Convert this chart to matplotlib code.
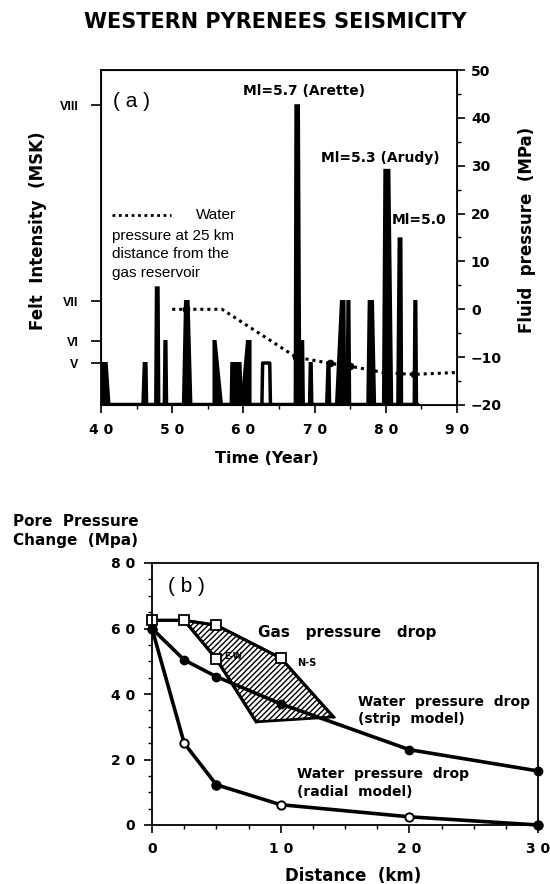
import numpy as np
import matplotlib
matplotlib.use("Agg")
import matplotlib.pyplot as plt
from matplotlib.ticker import MultipleLocator, FixedLocator, FixedFormatter

plt.rcParams['font.family'] = ['DejaVu Sans']
plt.rcParams['hatch.linewidth'] = 1.0
LIB = ['Liberation Sans', 'DejaVu Sans']

# ---- panel (a): felt intensity events (trapezoids: base-left, top-left, top-right, base-right)
ev_x0 = [39.9, 45.8, 47.6, 48.8, 51.5, 55.8, 58.2, 59.7, 62.6, 67.2, 68.0, 69.2, 71.6, 73.0, 74.5, 77.4, 79.6, 81.6, 83.9]
ev_x1 = [40.2, 46.0, 47.7, 48.9, 51.8, 55.8, 58.3, 60.5, 62.7, 67.3, 68.1, 69.3, 71.8, 73.7, 74.6, 77.6, 79.8, 81.8, 84.0]
ev_x2 = [40.8, 46.4, 48.1, 49.2, 52.3, 56.1, 59.6, 61.0, 63.7, 67.8, 68.4, 69.6, 72.1, 74.2, 74.9, 78.2, 80.5, 82.2, 84.3]
ev_x3 = [41.2, 46.5, 48.2, 49.3, 52.7, 57.0, 59.8, 61.0, 63.8, 68.0, 68.5, 69.7, 72.2, 74.3, 75.0, 78.5, 80.9, 82.3, 84.4]
ev_msk = [5, 5, 7.07, 6, 7, 6, 5, 6, 5, 8.0, 6, 5, 5, 7, 7, 7, 7.67, 7.32, 7]
ev_filled = [1, 1, 1, 1, 1, 1, 1, 1, 0, 1, 1, 1, 1, 1, 1, 1, 1, 1, 1]

msk_ticks = [5, 6, 7, 8]
msk_labels = ['V', 'VI', 'VII', 'VIII']

# water pressure at 25 km (MPa)
wp_year = [50, 52, 57, 67.4, 72.2, 75, 80, 84, 90]
wp_mpa = [0, 0, 0, -10, -11.3, -11.9, -13.3, -13.6, -13.2]

# ---- panel (b): pore pressure change vs distance
gas_ns_x = [0, 2.5, 5, 10, 14.1]
gas_ns_y = [62.5, 62.5, 61, 51, 33]
gas_ew_x = [0, 2.5, 5, 8.1]
gas_ew_y = [62.5, 62.5, 50.7, 31.5]

strip_x = [0, 2.5, 5, 10, 20, 30]
strip_y = [60, 50.4, 45.3, 37, 23, 16.5]
radial_x = [0, 2.5, 5, 10, 20, 30]
radial_y = [60, 25, 12.3, 6.2, 2.5, 0]

fig = plt.figure(figsize=(5.5, 8.84), dpi=100)

fig.text(0.5, 1 - 22 / 884, 'WESTERN PYRENEES SEISMICITY', ha='center', va='center',
         fontsize=15, fontweight='bold')

# ---------- panel (a)
ax = fig.add_axes([101 / 550, 1 - 405 / 884, 356 / 550, 335 / 884])

# nonlinear intensity axis, as drawn in the original
knots_i = [4, 5, 6, 7, 8, 9]
knots_p = [0, 42, 64, 104, 300, 496]
ax.set_yscale('function', functions=(lambda v: np.interp(v, knots_i, knots_p),
                                      lambda p: np.interp(p, knots_p, knots_i)))
ax.set_xlim(40, 90)
ax.set_ylim(4, 8.18)

for a, b, c, d, h, f in zip(ev_x0, ev_x1, ev_x2, ev_x3, ev_msk, ev_filled):
    if f:
        ax.fill([a, b, c, d], [4, h, h, 4], color='black', lw=1.5, ec='black')
    else:
        ax.plot([a, b, c, d], [4, h, h, 4], color='black', lw=2.5, solid_joinstyle='round')
ax.plot([ev_x0[0], ev_x3[-1]], [4.02, 4.02], color='black', lw=2.5)

ax.yaxis.set_major_locator(FixedLocator(msk_ticks))
ax.yaxis.set_major_formatter(FixedFormatter(msk_labels))
ax.yaxis.set_minor_locator(FixedLocator([]))
ax.tick_params(axis='y', direction='out', length=7, width=1.2, labelsize=9, pad=9)
for t in ax.get_yticklabels():
    t.set_fontweight('bold')
    t.set_family(LIB)

xt = [40, 50, 60, 70, 80, 90]
ax.xaxis.set_major_locator(FixedLocator(xt))
ax.xaxis.set_major_formatter(FixedFormatter([' '.join(str(v)) for v in xt]))
ax.xaxis.set_minor_locator(MultipleLocator(5))
ax.tick_params(axis='x', which='major', direction='out', length=6, width=1.2, labelsize=10, pad=7)
ax.tick_params(axis='x', which='minor', direction='out', length=3, width=1)
for t in ax.get_xticklabels():
    t.set_fontweight('bold')
for s in ax.spines.values():
    s.set_linewidth(1.3)

ax2 = ax.twinx()
ax2.set_ylim(-20, 50)
ax2.plot(wp_year, wp_mpa, color='black', ls=(0, (1, 1.3)), lw=2.2,
         marker='o', ms=4.5, markevery=[1, 3, 4, 5, 6, 7])
ax2.yaxis.set_major_locator(MultipleLocator(10))
ax2.yaxis.set_minor_locator(MultipleLocator(5))
ax2.tick_params(axis='y', which='major', direction='out', length=6, width=1.2, labelsize=10, pad=4)
ax2.tick_params(axis='y', which='minor', direction='out', length=3, width=1)
for t in ax2.get_yticklabels():
    t.set_fontweight('bold')

ax.text(0.034, 0.905, '( a )', transform=ax.transAxes, fontsize=15, va='center', family=LIB)
ax.plot([0.031, 0.198], [0.567, 0.567], transform=ax.transAxes, color='black',
        ls=(0, (1, 1.3)), lw=2)
ax.text(0.38, 0.567, 'Water', transform=ax.transAxes, fontsize=11, ha='right',
        va='center', family=LIB)
for i, line in enumerate(['pressure at 25 km', 'distance from the', 'gas reservoir']):
    ax.text(0.031, 0.504 - i * 0.0545, line, transform=ax.transAxes, fontsize=11,
            ha='left', va='center', family=LIB)

ax.text(0.57, 0.937, 'Ml=5.7 (Arette)', transform=ax.transAxes, fontsize=10,
        fontweight='bold', ha='center', va='center')
ax.text(0.784, 0.737, 'Ml=5.3 (Arudy)', transform=ax.transAxes, fontsize=10,
        fontweight='bold', ha='center', va='center')
ax.text(0.893, 0.551, 'Ml=5.0', transform=ax.transAxes, fontsize=10,
        fontweight='bold', ha='center', va='center')

fig.text(267 / 550, 1 - 458 / 884, 'Time (Year)', ha='center', va='center',
         fontsize=11.5, fontweight='bold')
fig.text(38 / 550, 1 - 231 / 884, 'Felt  Intensity  (MSK)', ha='center', va='center',
         rotation=90, fontsize=12, fontweight='bold')
fig.text(527 / 550, 1 - 230 / 884, 'Fluid  pressure  (MPa)', ha='center', va='center',
         rotation=90, fontsize=12, fontweight='bold')

# ---------- panel (b)
bx = fig.add_axes([152 / 550, 1 - 825 / 884, 386 / 550, 262 / 884])
bx.set_xlim(0, 30)
bx.set_ylim(0, 80)

poly_x = gas_ns_x[1:] + gas_ew_x[::-1][:-2]
poly_y = gas_ns_y[1:] + gas_ew_y[::-1][:-2]
bx.fill(poly_x, poly_y, facecolor='white', edgecolor='black', hatch='//////', lw=2)
bx.plot(gas_ns_x, gas_ns_y, color='black', lw=2.2)
bx.plot(gas_ew_x, gas_ew_y, color='black', lw=2.2)
bx.plot(gas_ns_x[:4], gas_ns_y[:4], ls='none', marker='s', ms=6.5, mfc='white',
        mec='black', mew=1.3, clip_on=False)
bx.plot(gas_ew_x[2:3], gas_ew_y[2:3], ls='none', marker='s', ms=6.5, mfc='white',
        mec='black', mew=1.3)

bx.plot(strip_x, strip_y, color='black', lw=2.6, marker='o', ms=6, mfc='black', clip_on=False)
bx.plot(radial_x, radial_y, color='black', lw=2.6, marker='o', ms=6, mfc='white',
        mew=1.4, clip_on=False)
bx.plot([radial_x[0], radial_x[2], radial_x[-1]], [radial_y[0], radial_y[2], radial_y[-1]],
        ls='none', marker='o', ms=6, color='black', clip_on=False)

bx.xaxis.set_major_locator(FixedLocator([0, 10, 20, 30]))
bx.xaxis.set_major_formatter(FixedFormatter(['0', '1 0', '2 0', '3 0']))
bx.xaxis.set_minor_locator(MultipleLocator(2.5))
bx.yaxis.set_major_locator(FixedLocator([0, 20, 40, 60, 80]))
bx.yaxis.set_major_formatter(FixedFormatter(['0', '2 0', '4 0', '6 0', '8 0']))
bx.yaxis.set_minor_locator(MultipleLocator(5))
bx.tick_params(which='major', direction='out', length=6, width=1.2, labelsize=10, pad=6)
bx.tick_params(which='minor', direction='out', length=3, width=1)
for t in bx.get_xticklabels() + bx.get_yticklabels():
    t.set_fontweight('bold')
for s in bx.spines.values():
    s.set_linewidth(1.3)

bx.text(1.25, 72.7, '( b )', fontsize=15, va='center', family=LIB)
bx.text(8.2, 58.8, 'Gas   pressure   drop', fontsize=11, fontweight='bold', va='center')
bx.text(11.3, 49.5, 'N-S', fontsize=7, fontweight='bold', va='center')
bx.text(5.6, 51.3, 'E-W', fontsize=6, fontweight='bold', va='center')
bx.text(16, 35.0, 'Water  pressure  drop\n(strip  model)', fontsize=10,
        fontweight='bold', va='center', linespacing=1.3)
bx.text(11.3, 12.8, 'Water  pressure  drop\n(radial  model)', fontsize=10,
        fontweight='bold', va='center', linespacing=1.3)

fig.text(13 / 550, 1 - 531 / 884, 'Pore  Pressure\nChange  (Mpa)', ha='left', va='center',
         fontsize=11, fontweight='bold', linespacing=1.3)
fig.text(353 / 550, 1 - 876 / 884, 'Distance  (km)', ha='center', va='center',
         fontsize=12, fontweight='bold')

fig.savefig('out.png', dpi=100)
